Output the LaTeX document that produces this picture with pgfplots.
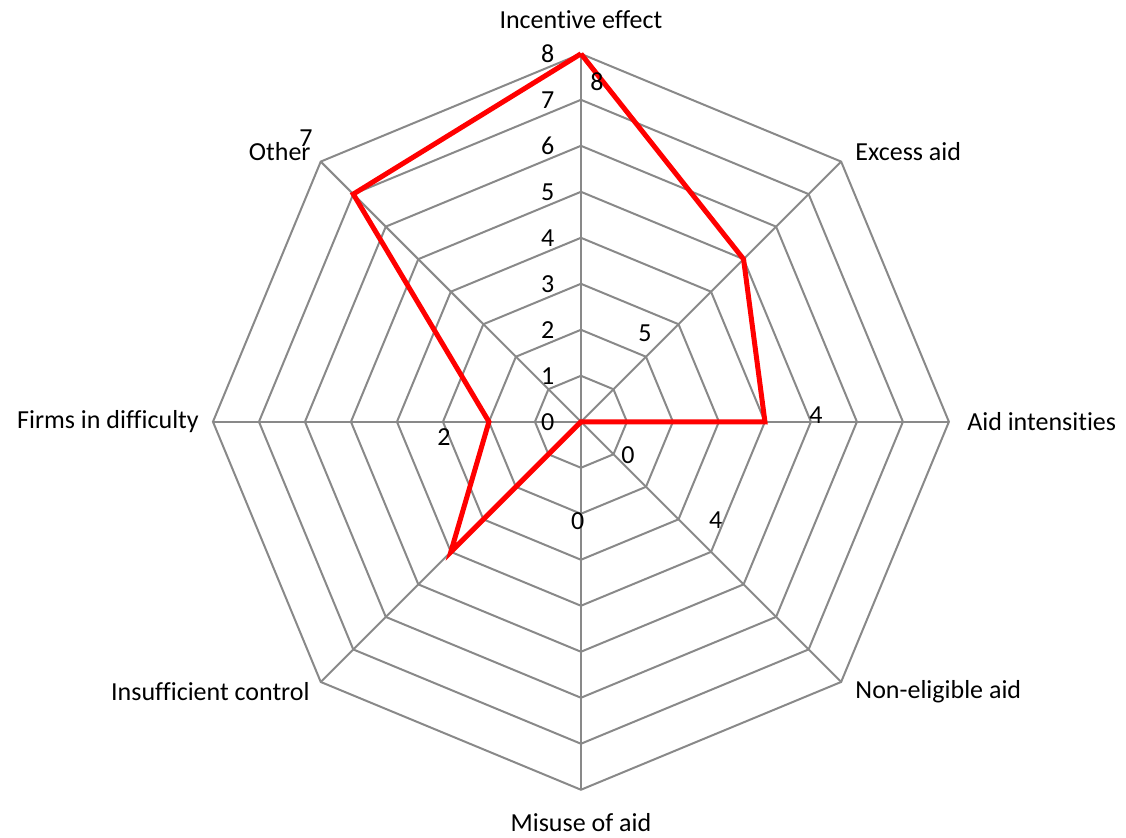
\documentclass[border=0pt]{standalone}
\usepackage{pgfplots}
\pgfplotsset{compat=1.18}
\usepackage{fontspec}
\setmainfont{Carlito}[Ligatures={NoCommon}]
\definecolor{gridgray}{RGB}{137,137,137}
\begin{document}
\fontsize{13}{15.6}\selectfont
\begin{tikzpicture}[font=\fontsize{13}{15.6}\selectfont]
\begin{axis}[
  x=23pt, y=23pt,
  xmin=-12.63, xmax=11.85, ymin=-9.04, ymax=9.17,
  axis lines=none, clip=false,
]
\coordinate (bl) at (axis cs:-12.63,-9.04);
\coordinate (tr) at (axis cs:11.85,9.17);
% rings
\pgfplotsinvokeforeach{1,...,8}{
  \addplot[gridgray, line width=1pt, data cs=polar, forget plot] coordinates {(90,#1) (45,#1) (0,#1) (-45,#1) (-90,#1) (-135,#1) (180,#1) (135,#1) (90,#1)};
}
% spokes
\pgfplotsinvokeforeach{90,45,0,-45,-90,-135,180,135}{
  \addplot[gridgray, line width=1pt, data cs=polar, forget plot] coordinates {(#1,0) (#1,8)};
}
% data
\addplot[red, line width=2.5pt, line join=miter, data cs=polar] coordinates {
  (90,8) (45,5) (0,4) (-45,0) (-90,0) (-135,4) (180,2) (135,7) (90,8)};
% radial tick labels
\pgfplotsinvokeforeach{0,...,8}{
  \node[anchor=center, inner sep=0pt, font=\fontsize{13}{15.6}\selectfont] at (axis cs:-0.72,#1) {#1};
}
% data labels
\begin{scope}[every node/.style={inner sep=0pt, font=\fontsize{13}{15.6}\selectfont}]
\node at (axis cs:0.348,7.39) {8};
\node at (axis cs:1.39,1.93) {5};
\node at (axis cs:5.11,0.15) {4};
\node at (axis cs:1.02,-0.72) {0};
\node at (axis cs:-0.07,-2.17) {0};
\node at (axis cs:2.93,-2.13) {4};
\node at (axis cs:-2.98,-0.33) {2};
\node at (axis cs:-5.98,6.17) {7};
% category labels
\node[anchor=center] at (axis cs:0,8.74) {Incentive effect};
\node[anchor=west] at (axis cs:5.96,5.87) {Excess aid};
\node[anchor=west] at (axis cs:8.39,0) {Aid intensities};
\node[anchor=west] at (axis cs:5.96,-5.87) {Non-eligible aid};
\node[anchor=center] at (axis cs:0,-8.72) {Misuse of aid};
\node[anchor=east] at (axis cs:-5.89,-5.87) {Insufficient control};
\node[anchor=east] at (axis cs:-8.30,0) {Firms in difficulty};
\node[anchor=east] at (axis cs:-5.87,5.87) {Other};
\end{scope}
\end{axis}
\pgfresetboundingbox
\path (bl) rectangle (tr);
\end{tikzpicture}
\end{document}
